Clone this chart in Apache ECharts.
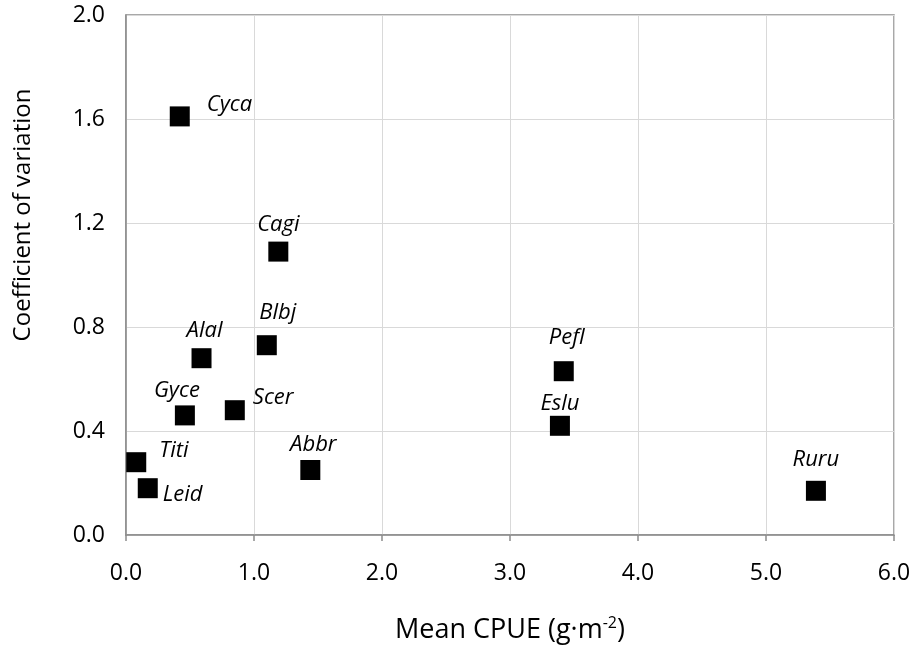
<!DOCTYPE html>
<html>
<head>
<meta charset="utf-8">
<script src="https://cdn.jsdelivr.net/npm/echarts@6/dist/echarts.min.js"></script>
<style>
html,body{margin:0;padding:0;background:#fff;}
#chart{width:917px;height:649px;}
</style>
</head>
<body>
<div id="chart"></div>
<script>
// Data
var species = ['Cyca','Cagi','Alal','Blbj','Gyce','Scer','Titi','Leid','Abbr','Pefl','Eslu','Ruru'];
var meanCPUE = [0.42, 1.19, 0.59, 1.10, 0.46, 0.85, 0.08, 0.17, 1.44, 3.42, 3.39, 5.39];
var coefVar  = [1.61, 1.09, 0.68, 0.73, 0.46, 0.48, 0.28, 0.18, 0.25, 0.63, 0.42, 0.17];
var xTicks = ['0.0','1.0','2.0','3.0','4.0','5.0','6.0'];
var yTicks = ['0.0','0.4','0.8','1.2','1.6','2.0'];

// Label placement (style only): [dx, dy, align]
var labelPlace = {
  Cyca: [27, -12, 'left'],
  Cagi: [0, -27, 'center'],
  Alal: [3, -27, 'center'],
  Blbj: [11, -32, 'center'],
  Gyce: [-8, -25, 'center'],
  Scer: [18, -12, 'left'],
  Titi: [23, -11, 'left'],
  Leid: [15, 7, 'left'],
  Abbr: [3, -25, 'center'],
  Pefl: [3, -33, 'center'],
  Eslu: [0, -22, 'center'],
  Ruru: [0, -31, 'center']
};

var points = species.map(function (s, i) {
  var p = labelPlace[s];
  return {
    name: s,
    value: [meanCPUE[i], coefVar[i]],
    label: { offset: [p[0], p[1]], align: p[2] }
  };
});

var chart = echarts.init(document.getElementById('chart'), null, {renderer: 'canvas'});
var axisCol = '#8c8c8c';
var option = {
  animation: false,
  backgroundColor: '#ffffff',
  grid: {
    left: 126, right: 23, top: 15, bottom: 114,
    show: true, borderColor: axisCol, borderWidth: 1.5, backgroundColor: 'transparent'
  },
  xAxis: {
    type: 'value', min: 0, max: 6, interval: 1,
    axisLine: { show: true, lineStyle: { color: axisCol, width: 1.5 } },
    axisTick: { show: true, length: 6, lineStyle: { color: axisCol, width: 1.5 } },
    splitLine: { show: true, lineStyle: { color: '#d9d9d9', width: 1 } },
    axisLabel: {
      margin: 27, color: '#000', fontFamily: 'Open Sans', fontSize: 23,
      formatter: function (v) { return xTicks[Math.round(v)]; }
    },
    name: 'Mean CPUE (g·m{sup|-2})',
    nameLocation: 'middle', nameGap: 80,
    nameTextStyle: {
      color: '#000', fontFamily: 'Open Sans', fontSize: 27,
      rich: { sup: { fontFamily: 'Open Sans', fontSize: 16, color: '#000', verticalAlign: 'top', padding: [0, 0, 14, 0] } }
    }
  },
  yAxis: {
    type: 'value', min: 0, max: 2, interval: 0.4,
    axisLine: { show: true, lineStyle: { color: axisCol, width: 1.5 } },
    axisTick: { show: false },
    splitLine: { show: true, lineStyle: { color: '#d9d9d9', width: 1 } },
    axisLabel: {
      margin: 21, color: '#000', fontFamily: 'Open Sans', fontSize: 23,
      formatter: function (v) { return yTicks[Math.round(v / 0.4)]; }
    }
  },
  graphic: [{
    type: 'text',
    x: 23, y: 215,
    rotation: Math.PI / 2,
    style: {
      text: 'Coefficient of variation',
      fill: '#000', font: '24px "Open Sans"',
      textAlign: 'center', textVerticalAlign: 'middle'
    }
  }],
  series: [{
    type: 'scatter',
    symbol: 'rect',
    symbolSize: 20,
    itemStyle: { color: '#000', opacity: 1 },
    label: {
      show: true,
      position: 'inside',
      verticalAlign: 'middle',
      formatter: '{b}',
      color: '#000',
      opacity: 1,
      fontFamily: 'Open Sans',
      fontStyle: 'italic',
      fontSize: 22
    },
    emphasis: { disabled: true },
    data: points
  }]
};
chart.setOption(option);
</script>
</body>
</html>
